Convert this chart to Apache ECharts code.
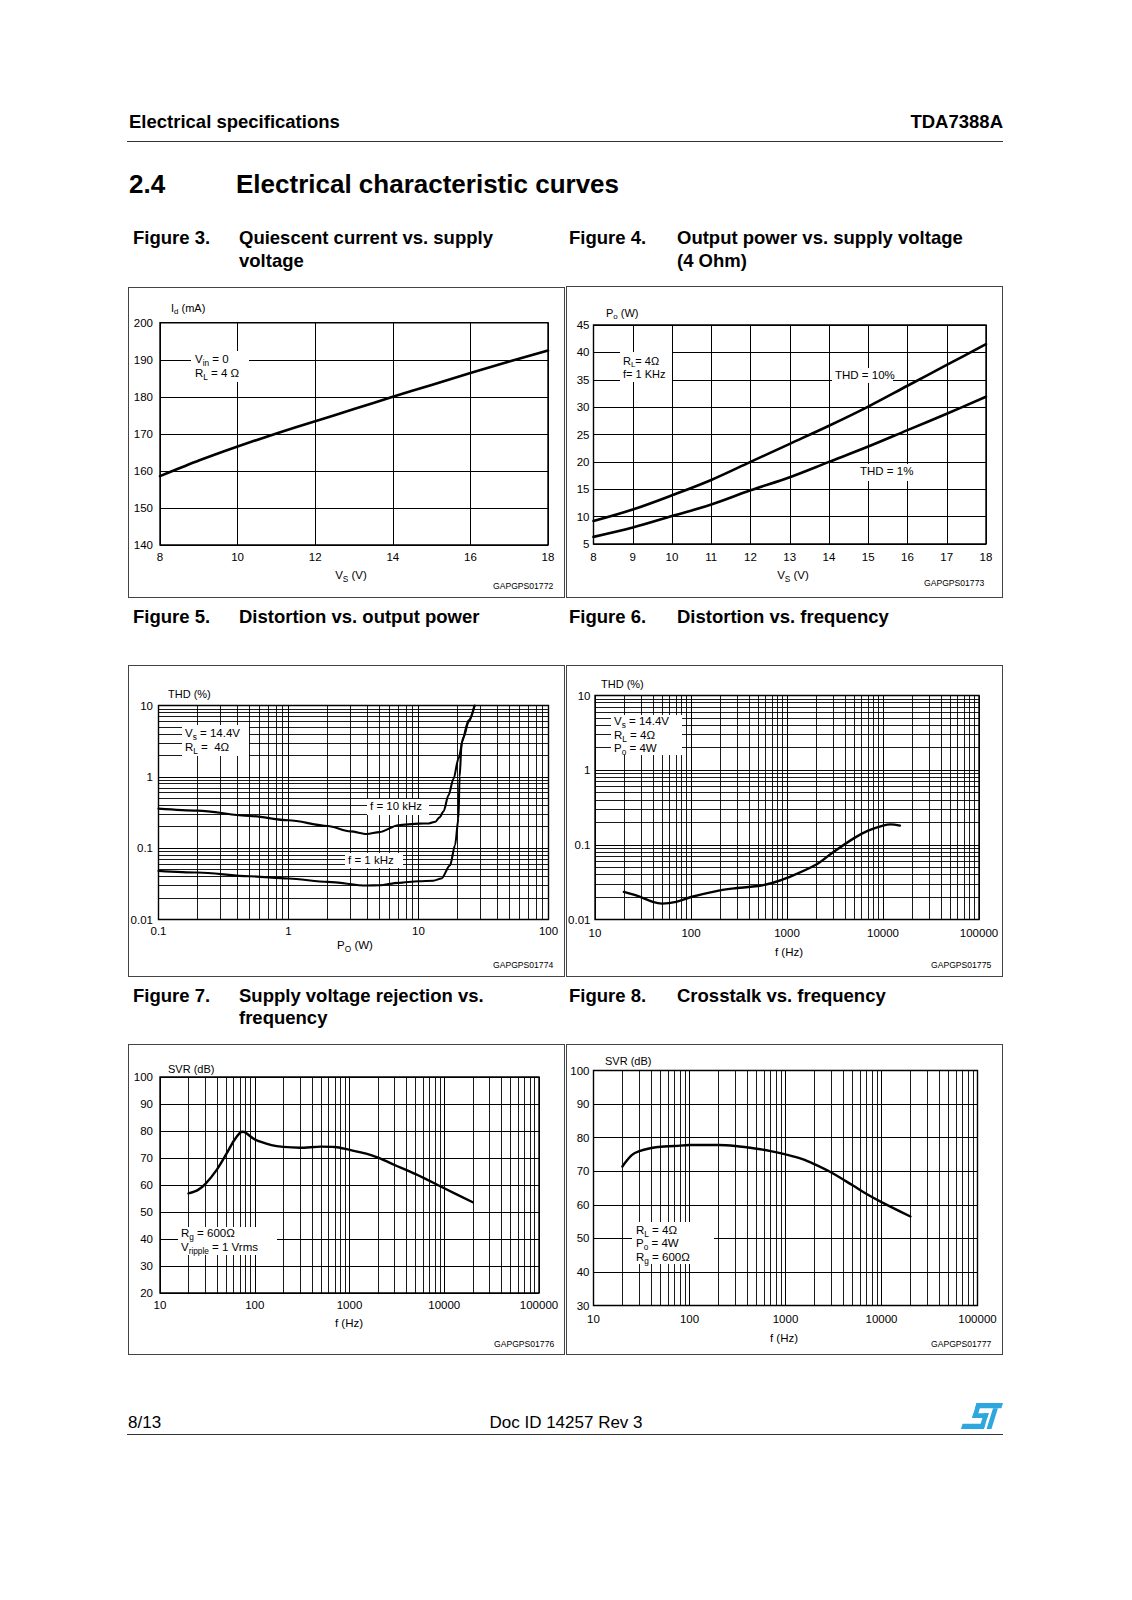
<!DOCTYPE html>
<html><head><meta charset="utf-8">
<script src="https://cdn.jsdelivr.net/npm/echarts@6/dist/echarts.min.js"></script>
<style>
html,body{margin:0;padding:0;background:#fff;}
#page{position:relative;width:1132px;height:1600px;background:#fff;font-family:"Liberation Sans",Arial,Helvetica,sans-serif;color:#000;overflow:hidden;}
#chart{position:absolute;left:0;top:0;width:1132px;height:1600px;z-index:2;}
.box{position:absolute;border:1px solid #444;box-sizing:border-box;z-index:1;}
.t{position:absolute;white-space:nowrap;line-height:1;z-index:4;}
.bg{position:absolute;background:#fff;z-index:3;}
.hl{position:absolute;height:0;border-top:1px solid #333;z-index:1;}
sub{font-size:0.72em;vertical-align:-0.3em;line-height:0;}
</style></head>
<body><div id="page"><div id="chart"></div></div>
<script>
// ---------------- data ----------------
const fig3Vs = [8, 9, 10, 11, 12, 13, 14, 15, 16, 17, 18];
const fig3Id = [158.6, 162.8, 166.6, 170.1, 173.4, 176.7, 180.0, 183.2, 186.4, 189.5, 192.5];

const fig4Vs = [8, 9, 10, 11, 12, 13, 14, 15, 16, 17, 18];
const fig4Thd10 = [9.2, 11.3, 13.9, 16.7, 20.0, 23.3, 26.6, 30.1, 33.9, 37.7, 41.5];
const fig4Thd1 = [6.3, 8.0, 10.1, 12.2, 14.8, 17.2, 20.0, 22.8, 25.8, 28.8, 31.9];

const fig5Po10k = [0.1, 0.2, 0.5, 1, 2, 3, 4, 5, 7, 10, 12, 13.5, 14.5, 15.6, 17, 18.6, 20.3, 22.2, 24.3, 27];
const fig5Thd10k = [0.358, 0.336, 0.283, 0.246, 0.205, 0.172, 0.158, 0.168, 0.21, 0.221, 0.222, 0.235, 0.27, 0.33, 0.55, 0.94, 1.8, 3.6, 5.9, 10];
const fig5Po1k = [0.1, 0.2, 0.5, 1, 2, 4, 5, 7, 10, 13, 15, 17.5, 19.1, 20.3, 20.7, 21.5, 24.3, 27];
const fig5Thd1k = [0.048, 0.0455, 0.0404, 0.0375, 0.0337, 0.0299, 0.0302, 0.0326, 0.0344, 0.035, 0.0375, 0.0577, 0.11, 0.26, 1.0, 3.07, 6.2, 10];

const fig6F = [20, 30, 40, 50, 70, 100, 200, 300, 500, 700, 1000, 2000, 3000, 5000, 7000, 10000, 12000, 15000];
const fig6Thd = [0.0234, 0.020, 0.0172, 0.0163, 0.0172, 0.020, 0.0246, 0.0264, 0.0281, 0.0308, 0.036, 0.054, 0.079, 0.123, 0.155, 0.181, 0.188, 0.181];

const fig7F = [20, 25, 30, 40, 50, 60, 70, 75, 80, 100, 150, 200, 300, 500, 700, 1000, 1500, 2000, 3000, 5000, 10000, 20000];
const fig7Svr = [56.9, 58.1, 60.3, 65.8, 71.4, 76.3, 79.4, 79.7, 79.4, 76.9, 74.8, 74.1, 73.8, 74.2, 74.1, 73.0, 71.6, 70.1, 67.4, 64.0, 58.8, 53.6];

const fig8F = [20, 25, 30, 40, 50, 70, 100, 200, 300, 500, 700, 1000, 1500, 2000, 3000, 5000, 7000, 10000, 20000];
const fig8Svr = [71.4, 74.8, 76.0, 76.9, 77.3, 77.5, 77.8, 77.8, 77.5, 76.7, 76.0, 75.0, 73.6, 72.1, 69.6, 65.8, 63.2, 60.8, 56.5];

// ---------------- helpers ----------------
const FONT = '"Liberation Sans", Arial, Helvetica, sans-serif';
const page = document.getElementById('page');
const zip = (xs, ys) => xs.map((x, i) => [x, ys[i]]);
const fmt = v => String(parseFloat(Number(v).toPrecision(6)));
function minorLog(lo, hi) {
  const out = [];
  for (let d = lo; d < hi * 0.999; d *= 10) for (let k = 2; k <= 9; k++) out.push(parseFloat((d * k).toPrecision(6)));
  return out;
}
function T(html, x, y, size, o) {
  o = o || {};
  const d = document.createElement('div');
  d.className = 't';
  d.innerHTML = html;
  d.style.left = x + 'px';
  d.style.top = y + 'px';
  d.style.fontSize = size + 'px';
  if (o.bold) d.style.fontWeight = 'bold';
  const tx = o.align === 'center' ? '-50%' : o.align === 'right' ? '-100%' : '0';
  d.style.transform = 'translate(' + tx + ',-50%)';
  page.appendChild(d);
}
function BG(x1, y1, x2, y2) {
  const d = document.createElement('div');
  d.className = 'bg';
  d.style.left = x1 + 'px'; d.style.top = y1 + 'px';
  d.style.width = (x2 - x1) + 'px'; d.style.height = (y2 - y1) + 'px';
  page.appendChild(d);
}
function BOX(x1, y1, x2, y2) {
  const d = document.createElement('div');
  d.className = 'box';
  d.style.left = x1 + 'px'; d.style.top = y1 + 'px';
  d.style.width = (x2 - x1) + 'px'; d.style.height = (y2 - y1) + 'px';
  page.appendChild(d);
}
function HL(x1, x2, y) {
  const d = document.createElement('div');
  d.className = 'hl';
  d.style.left = x1 + 'px'; d.style.top = y + 'px'; d.style.width = (x2 - x1) + 'px';
  page.appendChild(d);
}

// ---------------- page furniture ----------------
T('Electrical specifications', 129, 121.5, 18.5, {bold: true});
T('TDA7388A', 1003, 121.5, 18.5, {bold: true, align: 'right'});
HL(127, 1003, 141);
T('2.4', 129, 184, 26, {bold: true});
T('Electrical characteristic curves', 236, 184, 26, {bold: true});

T('Figure 3.', 133, 238, 18.5, {bold: true});
T('Quiescent current vs. supply', 239, 238, 18.5, {bold: true});
T('voltage', 239, 260.5, 18.5, {bold: true});
T('Figure 4.', 569, 238, 18.5, {bold: true});
T('Output power vs. supply voltage', 677, 238, 18.5, {bold: true});
T('(4 Ohm)', 677, 260.5, 18.5, {bold: true});

T('Figure 5.', 133, 617, 18.5, {bold: true});
T('Distortion vs. output power', 239, 617, 18.5, {bold: true});
T('Figure 6.', 569, 617, 18.5, {bold: true});
T('Distortion vs. frequency', 677, 617, 18.5, {bold: true});

T('Figure 7.', 133, 995.5, 18.5, {bold: true});
T('Supply voltage rejection vs.', 239, 995.5, 18.5, {bold: true});
T('frequency', 239, 1018, 18.5, {bold: true});
T('Figure 8.', 569, 995.5, 18.5, {bold: true});
T('Crosstalk vs. frequency', 677, 995.5, 18.5, {bold: true});

BOX(127.5, 287, 565, 598);
BOX(566, 285.5, 1003, 598);
BOX(127.5, 665, 565, 976.5);
BOX(566, 665, 1003, 976.5);
BOX(127.5, 1043.5, 565, 1355);
BOX(566, 1043.5, 1003, 1355);

T('8/13', 128, 1422, 17);
T('Doc ID 14257 Rev 3', 566, 1422, 17, {align: 'center'});
HL(127, 1003, 1434);
(function logo() {
  const ns = 'http://www.w3.org/2000/svg';
  const s = document.createElementNS(ns, 'svg');
  s.setAttribute('viewBox', '-24 0 124 64');
  s.setAttribute('preserveAspectRatio', 'none');
  s.style.cssText = 'position:absolute;left:960px;top:1403px;width:43px;height:26px;z-index:4;';
  const g = document.createElementNS(ns, 'g');
  g.setAttribute('transform', 'skewX(-20)');
  g.setAttribute('fill', '#2ea6de');
  const rects = [[24,0,76,13],[24,0,14,36],[24,25,44,12],[54,25,14,39],[2,51,66,13],[76,13,14,51]];
  rects.forEach(r => {
    const e = document.createElementNS(ns, 'rect');
    e.setAttribute('x', r[0]); e.setAttribute('y', r[1]);
    e.setAttribute('width', r[2]); e.setAttribute('height', r[3]);
    g.appendChild(e);
  });
  s.appendChild(g);
  page.appendChild(s);
})();

// ---------------- chart annotations (axis names, notes) ----------------
// Fig 3
T('I<sub>d</sub> (mA)', 171, 308, 11);
T('V<sub>S</sub> (V)', 351, 576, 11.5, {align: 'center'});
T('GAPGPS01772', 493, 586, 8.6);
BG(191, 351, 249, 382);
T('V<sub>in</sub> = 0', 195, 359.5, 11.5);
T('R<sub>L</sub> = 4 &Omega;', 195, 373.5, 11.5);
// Fig 4
T('P<sub>o</sub> (W)', 606, 313, 11);
T('V<sub>S</sub> (V)', 793, 576, 11.5, {align: 'center'});
T('GAPGPS01773', 924, 583, 8.6);
BG(620, 352, 672, 382);
T('R<sub>L</sub>= 4&Omega;', 623, 360.5, 11);
T('f= 1 KHz', 623, 373.5, 11);
BG(832, 368, 893, 383);
T('THD = 10%', 835, 376, 11.5);
BG(857, 464, 913, 481);
T('THD = 1%', 860, 472, 11.5);
// Fig 5
T('THD (%)', 168, 694, 11);
T('P<sub>O</sub> (W)', 355, 946, 11.5, {align: 'center'});
T('GAPGPS01774', 493, 965, 8.6);
BG(182, 725, 249, 756);
T('V<sub>s</sub> = 14.4V', 185, 733.5, 11.5);
T('R<sub>L</sub> =&nbsp; 4&Omega;', 185, 747.5, 11.5);
BG(367, 799, 429, 815);
T('f = 10 kHz', 370, 807, 11.5);
BG(345, 853, 403, 868);
T('f = 1 kHz', 348, 860.5, 11.5);
// Fig 6
T('THD (%)', 601, 684, 11);
T('f (Hz)', 789, 953, 11.5, {align: 'center'});
T('GAPGPS01775', 931, 965, 8.6);
BG(611, 715, 682, 755);
T('V<sub>s</sub> = 14.4V', 614, 722, 11.5);
T('R<sub>L</sub> = 4&Omega;', 614, 735.5, 11.5);
T('P<sub>o</sub> = 4W', 614, 748.5, 11.5);
// Fig 7
T('SVR (dB)', 168, 1069, 11);
T('f (Hz)', 349, 1324, 11.5, {align: 'center'});
T('GAPGPS01776', 494, 1344, 8.6);
BG(178, 1227, 277, 1255);
T('R<sub>g</sub> = 600&Omega;', 181, 1234, 11.5);
T('V<sub>ripple</sub> = 1 Vrms', 181, 1247.5, 11.5);
// Fig 8
T('SVR (dB)', 605, 1060.5, 11);
T('f (Hz)', 784, 1339, 11.5, {align: 'center'});
T('GAPGPS01777', 931, 1344, 8.6);
BG(632, 1222, 714, 1264);
T('R<sub>L</sub> = 4&Omega;', 636, 1230.5, 11.5);
T('P<sub>o</sub> = 4W', 636, 1244, 11.5);
T('R<sub>g</sub> = 600&Omega;', 636, 1257.5, 11.5);

// ---------------- echarts ----------------
const grids = [
  {left: 160, top: 322.7, width: 388, height: 222.3},
  {left: 593.5, top: 325, width: 392.5, height: 219},
  {left: 158.5, top: 705.5, width: 390, height: 214},
  {left: 595, top: 695.5, width: 384, height: 224},
  {left: 160, top: 1077, width: 379, height: 216},
  {left: 593.5, top: 1070.5, width: 384, height: 235}
].map(g => Object.assign({show: true, borderColor: '#000', borderWidth: 1.4, backgroundColor: 'transparent', containLabel: false, outerBoundsMode: 'none'}, g));

function axis(gi, type, min, max, interval, margin) {
  const a = {
    gridIndex: gi, type: type, min: min, max: max,
    axisLine: {show: false}, axisTick: {show: false},
    splitLine: {show: true, lineStyle: {color: '#000', width: 1}},
    axisLabel: {color: '#000', fontSize: 11.5, fontFamily: FONT, margin: margin, formatter: fmt, showMinLabel: true, showMaxLabel: true},
    axisPointer: {show: false}
  };
  if (type === 'log') a.logBase = 10; else a.interval = interval;
  return a;
}
const xAxes = [
  axis(0, 'value', 8, 18, 2, 6),
  axis(1, 'value', 8, 18, 1, 6.5),
  axis(2, 'log', 0.1, 100, null, 5),
  axis(3, 'log', 10, 100000, null, 7),
  axis(4, 'log', 10, 100000, null, 6),
  axis(5, 'log', 10, 100000, null, 7)
];
const yAxes = [
  axis(0, 'value', 140, 200, 10, 7),
  axis(1, 'value', 5, 45, 5, 4),
  axis(2, 'log', 0.01, 10, null, 5.5),
  axis(3, 'log', 0.01, 10, null, 4.5),
  axis(4, 'value', 20, 100, 10, 7),
  axis(5, 'value', 30, 100, 10, 4)
];

function minorGrid(gi, xs, ys) {
  return {
    type: 'line', xAxisIndex: gi, yAxisIndex: gi, data: [], silent: true, animation: false,
    markLine: {
      silent: true, animation: false, symbol: ['none', 'none'], label: {show: false},
      lineStyle: {color: '#000', width: 0.9, type: 'solid'},
      emphasis: {disabled: true},
      data: xs.map(v => ({xAxis: v})).concat(ys.map(v => ({yAxis: v})))
    }
  };
}
function curve(gi, data, width, extra) {
  return Object.assign({
    type: 'line', xAxisIndex: gi, yAxisIndex: gi, data: data, showSymbol: false, symbol: 'none',
    smooth: 0.35, silent: true, animation: false, z: 10, clip: true,
    lineStyle: {color: '#000', width: width, cap: 'round', join: 'round'},
    itemStyle: {color: '#000'}, emphasis: {disabled: true}
  }, extra || {});
}

const series = [
  minorGrid(2, minorLog(0.1, 100), minorLog(0.01, 10)),
  minorGrid(3, minorLog(10, 100000), minorLog(0.01, 10)),
  minorGrid(4, minorLog(10, 100000), []),
  minorGrid(5, minorLog(10, 100000), []),
  curve(0, zip(fig3Vs, fig3Id), 2.6, {smooth: 0.2}),
  curve(1, zip(fig4Vs, fig4Thd10), 2.6),
  curve(1, zip(fig4Vs, fig4Thd1), 2.6),
  curve(2, zip(fig5Po10k, fig5Thd10k), 2.1, {smooth: 0.3, smoothMonotone: 'x'}),
  curve(2, zip(fig5Po1k, fig5Thd1k), 2.1, {smooth: 0.3, smoothMonotone: 'x'}),
  curve(3, zip(fig6F, fig6Thd), 2.4),
  curve(4, zip(fig7F, fig7Svr), 2.4, {smooth: 0.3}),
  curve(5, zip(fig8F, fig8Svr), 2.4)
];

const chart = echarts.init(document.getElementById('chart'), null, {renderer: 'svg', width: 1132, height: 1600});
chart.setOption({
  animation: false,
  backgroundColor: 'transparent',
  textStyle: {fontFamily: FONT},
  grid: grids,
  xAxis: xAxes,
  yAxis: yAxes,
  series: series
});
</script></body></html>
